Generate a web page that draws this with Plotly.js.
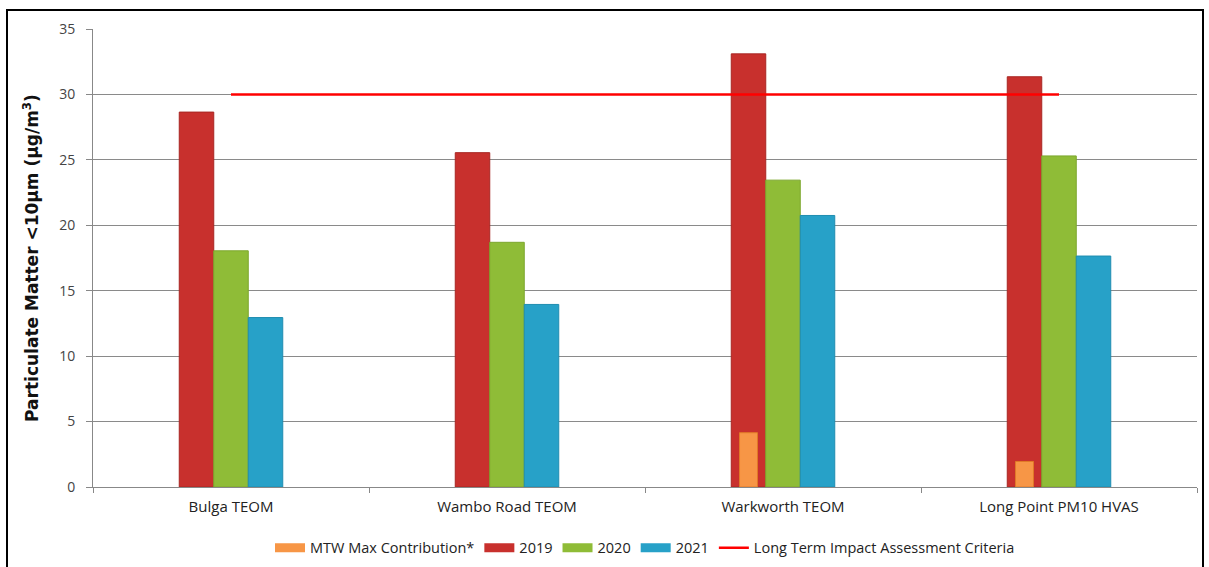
<!DOCTYPE html>
<html>
<head>
<meta charset="utf-8">
<script src="https://cdn.plot.ly/plotly-3.0.1.min.js"></script>
<style>
  html, body { margin: 0; padding: 0; background: #fff; }
  #wrap { position: relative; width: 1209px; height: 567px; overflow: hidden; }
  #chart { position: absolute; left: 0; top: 0; width: 1209px; height: 567px; }
  #frame { position: absolute; left: 6px; top: 9px; width: 1198px; height: 570px; border: 2px solid #000; pointer-events: none; box-sizing: border-box; }
</style>
</head>
<body>
<div id="wrap">
  <div id="chart"></div>
  <div id="frame"></div>
</div>
<script>
const categories = ["Bulga TEOM", "Wambo Road TEOM", "Warkworth TEOM", "Long Point PM10 HVAS"];
const mtwMax = [null, null, 4.15, 1.95];
const y2019 = [28.65, 25.55, 33.1, 31.35];
const y2020 = [18.05, 18.7, 23.45, 25.3];
const y2021 = [12.95, 13.95, 20.75, 17.65];
const criteria = [30, 30, 30, 30];
const seriesNames = ["MTW Max Contribution*", "2019", "2020", "2021", "Long Term Impact Assessment Criteria"];

const colors = { mtw: '#F79646', y19: '#C8302D', y20: '#8FBC37', y21: '#27A1C8', crit: '#FF0000' };
const font = "'Open Sans', sans-serif";
const bw = 0.125;

const traces = [
  { type: 'bar', name: seriesNames[1], x: categories, y: y2019, width: bw, offset: -1.5 * bw,
    marker: { color: colors.y19, line: { color: '#A82623', width: 1 } }, showlegend: false },
  { type: 'bar', name: seriesNames[2], x: categories, y: y2020, width: bw, offset: -0.5 * bw,
    marker: { color: colors.y20, line: { color: '#7CA72D', width: 1 } }, showlegend: false },
  { type: 'bar', name: seriesNames[3], x: categories, y: y2021, width: bw, offset: 0.5 * bw,
    marker: { color: colors.y21, line: { color: '#1F8DB0', width: 1 } }, showlegend: false },
  { type: 'bar', name: seriesNames[0], x: categories, y: mtwMax, width: 0.065, offset: -bw - 0.0325,
    marker: { color: colors.mtw, line: { color: '#E07A28', width: 1 } }, showlegend: false },
  { type: 'scatter', mode: 'lines', name: seriesNames[4], x: categories, y: criteria,
    line: { color: colors.crit, width: 2.5 }, showlegend: false }
];

// legend entries (wide swatches like the original)
const legendColors = [colors.mtw, colors.y19, colors.y20, colors.y21, colors.crit];
seriesNames.forEach((n, i) => {
  traces.push({
    type: 'scatter', mode: 'lines', name: n, x: [categories[0]], y: [null],
    line: { color: legendColors[i], width: i === 4 ? 2.5 : 9 },
    showlegend: true, legendrank: i + 1, hoverinfo: 'skip'
  });
});

const layout = {
  width: 1209, height: 567,
  margin: { l: 93, r: 12, t: 29, b: 80, autoexpand: false },
  paper_bgcolor: '#fff', plot_bgcolor: '#fff',
  barmode: 'overlay',
  showlegend: true,
  font: { family: font, size: 13, color: '#222' },
  xaxis: {
    type: 'category', showgrid: false, showline: true, linecolor: '#888', linewidth: 1,
    ticks: 'outside', tickson: 'boundaries', ticklen: 5, tickcolor: '#888',
    ticklabelstandoff: 6,
    tickfont: { family: font, size: 15, color: '#222' }, range: [-0.5, 3.5], fixedrange: true
  },
  yaxis: {
    range: [0, 35], dtick: 5, showgrid: true, gridcolor: '#8a8a8a', gridwidth: 1,
    showline: true, linecolor: '#888', linewidth: 1, ticks: 'outside', ticklen: 6, tickcolor: '#888',
    ticklabelstandoff: 8,
    zeroline: false, tickfont: { family: font, size: 14, color: '#444' },
    title: { text: '<b>Particulate Matter &lt;10µm (µg/m<sup>3</sup>)</b>', font: { family: "'DejaVu Sans', sans-serif", size: 17, color: '#111' }, standoff: 16 }
  },
  legend: {
    orientation: 'h', x: 0.5, xanchor: 'center', xref: 'paper',
    y: 0.034, yanchor: 'middle', yref: 'container',
    traceorder: 'normal', font: { family: font, size: 14.5, color: '#222' },
    itemwidth: 30, bgcolor: 'rgba(0,0,0,0)'
  }
};

Plotly.newPlot('chart', traces, layout, { staticPlot: true, displayModeBar: false });
</script>
</body>
</html>
